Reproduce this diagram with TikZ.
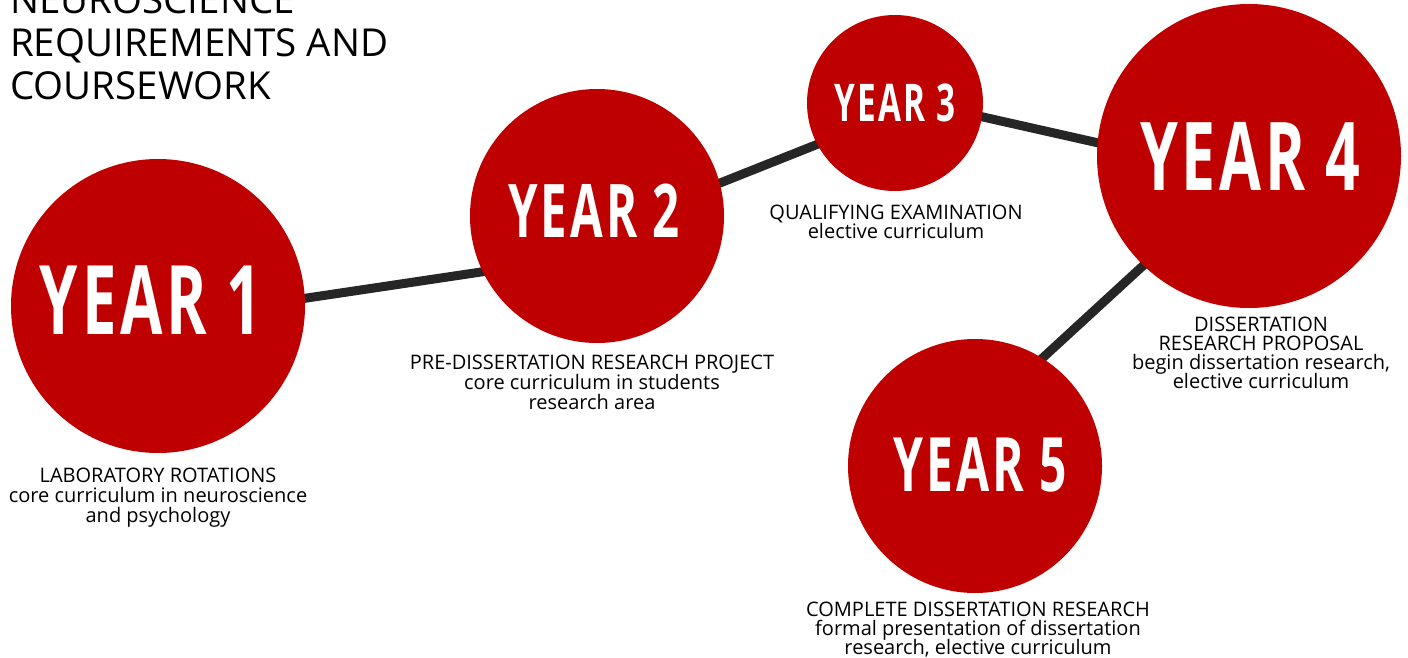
\documentclass[tikz,border=0pt]{standalone}
\usepackage{fontspec}
\setmainfont{Open Sans}
\newfontfamily\yearfont[FakeStretch=0.64, LetterSpace=4]{Open Sans}
\usetikzlibrary{backgrounds}
\definecolor{yred}{RGB}{191,0,0}
\definecolor{conncol}{RGB}{38,38,38}
\begin{document}
\begin{tikzpicture}[x=1pt,y=-1pt,
  yearcircle/.style={circle, fill=yred, draw=none, inner sep=0pt},
  yeartext/.style={text=white, inner sep=0pt},
  desc/.style={align=center, inner sep=0pt, anchor=north, text=black,
    font={\fontsize{20}{20}\selectfont\lineskiplimit=-20pt}},
  desctight/.style={desc, font={\fontsize{20}{19}\selectfont\lineskiplimit=-20pt}},
  connector/.style={draw=conncol, line width=9pt, shorten <=-8pt, shorten >=-8pt}]
\useasboundingbox (0,0) rectangle (1408,658);

% title
\node[anchor=north west, align=left, inner sep=0pt,
  font=\fontsize{38.5}{43}\selectfont] (title) at (10,-15)
  {NEUROSCIENCE\\REQUIREMENTS AND\\COURSEWORK};

% circles
\node[yearcircle, minimum size=294] (c1) at (158,306) {};
\node[yearcircle, minimum size=254] (c2) at (597,216) {};
\node[yearcircle, minimum size=176] (c3) at (895,103) {};
\node[yearcircle, minimum size=304] (c4) at (1249,156) {};
\node[yearcircle, minimum size=254] (c5) at (975,466) {};

% year texts
\node[yeartext, font=\yearfont\bfseries\fontsize{96}{96}\selectfont] (t1) at (151,300) {YEAR 1};
\node[yeartext, font=\yearfont\bfseries\fontsize{74}{74}\selectfont] (t2) at (594,211) {YEAR 2};
\node[yeartext, font=\yearfont\bfseries\fontsize{52}{52}\selectfont] (t3) at (895,103) {YEAR 3};
\node[yeartext, font=\yearfont\bfseries\fontsize{95}{95}\selectfont] (t4) at (1250,156) {YEAR 4};
\node[yeartext, font=\yearfont\bfseries\fontsize{75}{75}\selectfont] (t5) at (980,465) {YEAR 5};

% connectors
\begin{scope}[on background layer]
\draw[connector] (c1.3) -- (c2.206);
\draw[connector] (c2.15) -- (c3.208);
\draw[connector] (c3.-9) -- (c4.175);
\draw[connector] (c4.226) -- (c5.58);
\end{scope}

% descriptions
\node[desc] (d1) at (158,468) {LABORATORY ROTATIONS\\core curriculum in neuroscience\\and psychology};
\node[desc] (d2) at (592,355) {PRE-DISSERTATION RESEARCH PROJECT\\core curriculum in students\\research area};
\node[desctight] (d3) at (896,205) {QUALIFYING EXAMINATION\\elective curriculum};
\node[desctight] (d4) at (1261,317) {DISSERTATION\\RESEARCH PROPOSAL\\begin dissertation research,\\elective curriculum};
\node[desctight] (d5) at (978,602) {COMPLETE DISSERTATION RESEARCH\\formal presentation of dissertation\\research, elective curriculum};
\end{tikzpicture}
\end{document}
